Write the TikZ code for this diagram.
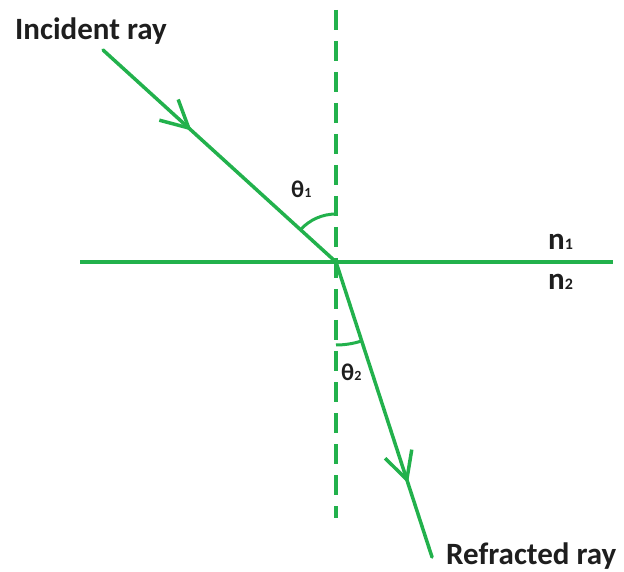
\documentclass[tikz,border=0pt]{standalone}
\usepackage{fontspec}
\setmainfont{Carlito}
\usetikzlibrary{arrows.meta,decorations.markings,angles}
\definecolor{paintgreen}{HTML}{22B14C}
\definecolor{inkdark}{HTML}{1E1E1E}
\newcommand\bigtext{\fontsize{31}{36}\selectfont\bfseries}
\newcommand\anglelbl[1]{{\fontsize{24}{28}\selectfont\bfseries θ}{\fontsize{14}{16}\selectfont\bfseries #1}}
\newcommand\indexlbl[1]{{\bigtext n}{\fontsize{16}{18}\selectfont\bfseries #1}}
\tikzset{>=Latex,
  every node/.style={text=inkdark,inner sep=0pt},
  surface/.style={draw=paintgreen,line width=4pt},
  normalline/.style={draw=paintgreen,line width=4.5pt,dash pattern=on 20pt off 11pt},
  lightray/.style={draw=paintgreen,line width=3.5pt,line cap=round},
  flowmark/.style={postaction={decorate},decoration={markings,
    mark=at position #1 with {\arrow[paintgreen,line width=3.5pt,line join=round]{Straight Barb[length=27pt,width=28pt]}}}},
  anglearc/.style={draw=paintgreen,line width=3pt}}
\begin{document}
\begin{tikzpicture}[x=1pt,y=1pt]
\useasboundingbox (0,0) rectangle (624,571);
\coordinate (O) at (336,309);
\coordinate (sl) at (80,309);
\coordinate (sr) at (613,309);
\coordinate (nt) at (336,561);
\coordinate (nb) at (336,53);
\coordinate (inc) at (103,521);
\coordinate (refr) at (432,14);
% boundary and normal
\draw[surface] (sl)--(sr);
\draw[normalline] (nt)--(nb);
% incident and refracted rays
\draw[lightray,flowmark=.38] (inc)--(O);
\draw[lightray,flowmark=.75] (O)--(refr);
\pic[anglearc,angle radius=48pt] {angle=nt--O--inc};
\pic[anglearc,angle radius=83pt] {angle=nb--O--refr};
\node[anchor=base west] (inclbl) at (15,531) {\bigtext Incident ray};
\node[anchor=base west] (refrlbl) at (446,7) {\bigtext Refracted ray};
\node[anchor=base west] (theta1) at (291,373) {\anglelbl{1}};
\node[anchor=base west] (theta2) at (341,190) {\anglelbl{2}};
\node[anchor=base west] (nupper) at (548,321) {\indexlbl{1}};
\node[anchor=base west] (nlower) at (548,281) {\indexlbl{2}};
\end{tikzpicture}
\end{document}
